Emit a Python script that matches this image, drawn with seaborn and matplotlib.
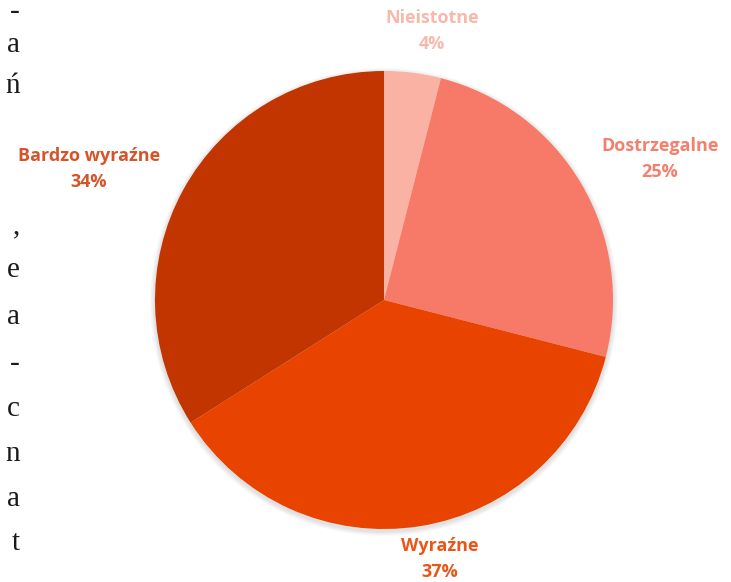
import matplotlib
matplotlib.use("Agg")
import matplotlib.pyplot as plt
import seaborn as sns
from matplotlib.patches import Circle

# data
categories = ['Nieistotne', 'Dostrzegalne', 'Wyraźne', 'Bardzo wyraźne']
shares = [4, 25, 37, 34]
pct_labels = ['4%', '25%', '37%', '34%']

slice_colors = ['#F9B2A4', '#F77A69', '#E84400', '#C23500']
label_colors = ['#F9B8AC', '#F3806C', '#EA5518', '#D6542A']
# label anchor (pixels in figure space), name line + percent line
label_pos = [(432, 18), (660, 146), (440, 546), (89, 156)]

# cut-off letters of the surrounding document on the left edge
side_chars = ['-', 'a', 'ń', ',', 'e', 'a', '-', 'c', 'n', 'a', 't']
side_y = [12, 45, 86, 226, 270, 317, 364, 409, 454, 499, 543]

W, H = 731, 582
CENTER = (384, 300)
RADIUS = 229

sns.set_theme(style="white")
plt.rcParams['font.family'] = ['Open Sans', 'DejaVu Sans']

fig = plt.figure(figsize=(W / 100, H / 100), dpi=100)
ax = fig.add_axes([0, 0, 1, 1])

# soft shadow around the pie
for i in range(6):
    ax.add_patch(Circle((CENTER[0], CENTER[1] + 2), RADIUS + 1 + i * 0.8,
                        color='black', alpha=0.02, lw=0, zorder=1))

# y axis is flipped below, so start at 270 and go counterclockwise in data
ax.pie(shares, colors=slice_colors, startangle=270, counterclock=True,
       center=CENTER, radius=RADIUS, frame=True,
       wedgeprops=dict(linewidth=0, zorder=2))
ax.set_xlim(0, W)
ax.set_ylim(H, 0)
ax.set_aspect('equal')
ax.axis('off')

for name, pct, col, (x, y) in zip(categories, pct_labels, label_colors, label_pos):
    ax.text(x, y, name, color=col, fontsize=13, fontweight='bold',
            ha='center', va='center')
    ax.text(x, y + 26, pct, color=col, fontsize=13, fontweight='bold',
            ha='center', va='center')

for ch, y in zip(side_chars, side_y):
    ax.text(20, y, ch, color='#1a1a1a', fontsize=21, family='Liberation Serif',
            ha='right', va='center')

fig.savefig('out.png', dpi=100, facecolor='white')
